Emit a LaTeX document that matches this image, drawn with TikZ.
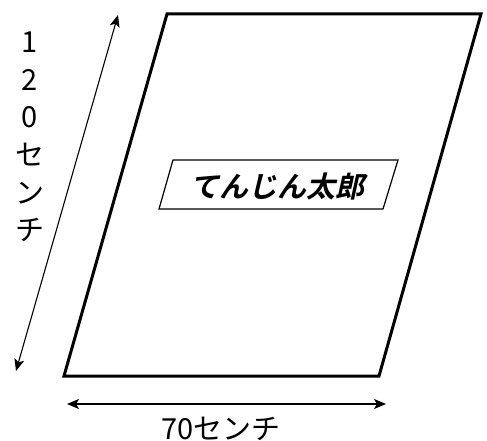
\documentclass[tikz,border=0pt]{standalone}
\usepackage{fontspec}
\usetikzlibrary{arrows.meta}
\newfontfamily\jpfont{Noto Sans CJK JP}
\newfontfamily\jpnamefont[FakeSlant=0.22]{Noto Sans CJK JP Bold}

\begin{document}
\begin{tikzpicture}[x=1pt,y=-1pt,
	sheet/.style={line width=3pt, line join=miter},
	namebox/.style={line width=1.2pt},
	dimarrow/.style={line width=1.1pt, {Stealth[length=12pt,width=10pt,inset=3pt]}-{Stealth[length=12pt,width=10pt,inset=3pt]}},
	dimtext/.style={font=\jpfont\fontsize{29}{32}\selectfont, inner sep=0pt},
	nametext/.style={font=\jpnamefont\fontsize{29}{32}\selectfont, inner sep=0pt}]
	\useasboundingbox (0,0) rectangle (487,441);
	% sheet
	\coordinate (sw) at (64,376);
	\coordinate (se) at (379,376);
	\coordinate (ne) at (481,14);
	\coordinate (nw) at (167,14);
	\draw[sheet] (sw) -- (se) -- (ne) -- (nw) -- cycle;
	% name plate
	\coordinate (pw) at (159,209);
	\coordinate (pe) at (383,209);
	\coordinate (qe) at (398,160);
	\coordinate (qw) at (173,160);
	\draw[namebox] (pw) -- (pe) -- (qe) -- (qw) -- cycle;
	\node[nametext] (name) at (277,187) {てんじん太郎};
	% dimensions
	\coordinate (vbot) at (16,371);
	\coordinate (vtop) at (118,15);
	\draw[dimarrow] (vbot) -- (vtop);
	\foreach \c [count=\i] in {1,2,0,セ,ン,チ}
		\node[dimtext, anchor=base] (len\i) at (30,{53+37.5*(\i-1)}) {\c};
	\coordinate (hl) at (67,404);
	\coordinate (hr) at (386,404);
	\draw[dimarrow] (hl) -- (hr);
	\node[dimtext, anchor=base] (wid) at (221,439) {70センチ};
\end{tikzpicture}
\end{document}
